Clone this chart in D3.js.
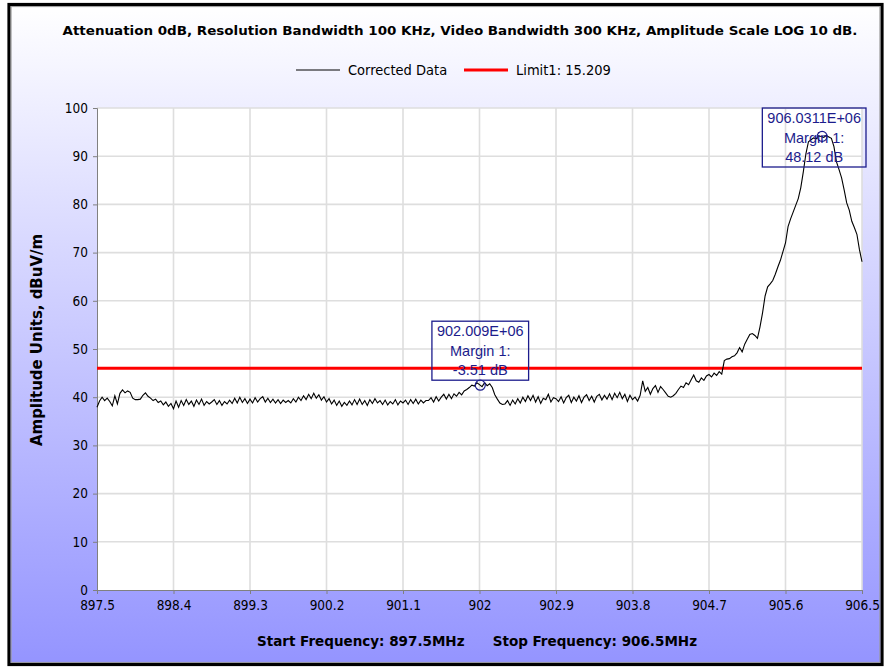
<!DOCTYPE html>
<html>
<head>
<meta charset="utf-8">
<script src="https://cdn.jsdelivr.net/npm/d3@7"></script>
<style>
  body { margin: 0; background: #fff; }
  svg { display: block; }
</style>
</head>
<body>
<svg id="chart"></svg>
<script>
// Sweep settings
const sweepStart = 897.5;
const sweepStop = 906.5;

// Corrected data, dBuV/m, one value per sweep point
const amplitude = [
  37.9, 39.2, 40.0, 39.3, 39.8, 39.1, 38.2, 40.3, 38.6, 40.8,
  41.5, 40.9, 41.3, 41.0, 39.8, 39.5, 39.5, 39.6, 40.4, 40.9,
  40.2, 39.8, 39.3, 39.6, 38.9, 39.2, 38.4, 39.0, 38.1, 38.7,
  37.6, 39.2, 37.9, 39.3, 38.3, 39.5, 38.5, 39.2, 38.1, 39.4,
  38.5, 39.6, 38.3, 39.1, 38.6, 39.0, 39.5, 38.5, 39.3, 38.3,
  39.1, 38.6, 39.4, 38.7, 39.8, 38.8, 40.0, 38.9, 39.7, 38.7,
  39.6, 38.8, 39.9, 39.0, 39.7, 40.1, 39.0, 39.8, 38.9, 39.6,
  38.8, 39.5, 38.7, 39.4, 38.9, 39.3, 38.8, 39.7, 39.0, 40.0,
  39.3, 40.3, 39.5, 40.6, 39.7, 40.8, 39.8, 40.5, 39.4, 40.1,
  39.0, 39.7, 38.6, 39.4, 38.3, 39.2, 38.1, 38.9, 38.3, 39.2,
  38.4, 39.5, 38.5, 39.6, 38.5, 39.3, 38.3, 39.5, 38.7, 39.7,
  38.8, 39.3, 38.5, 39.4, 38.4, 39.1, 38.6, 39.5, 38.4, 39.2,
  38.8, 39.4, 38.5, 39.5, 38.7, 39.6, 38.6, 39.4, 38.8, 39.3,
  39.3, 39.9, 39.0, 40.1, 39.2, 40.0, 40.6, 39.6, 40.6, 39.7,
  40.7, 40.2, 41.0, 40.5, 41.3, 41.6, 42.0, 42.5, 42.3, 43.0,
  42.6, 42.2, 43.0, 42.4, 42.8, 42.0, 40.5, 39.6, 38.8, 38.5,
  38.6, 39.3, 38.3, 39.4, 38.6, 39.7, 38.8, 40.0, 39.1, 40.3,
  39.3, 40.4, 39.0, 40.1, 38.7, 39.8, 39.5, 40.6, 39.0, 39.9,
  39.7, 39.1, 40.1, 38.8, 39.9, 40.4, 38.9, 40.0, 39.2, 40.3,
  38.9, 40.0, 40.5, 39.3, 40.2, 39.0, 40.2, 40.6, 39.4, 40.4,
  39.6, 40.7, 39.5, 40.8, 39.9, 41.0, 39.7, 40.6, 39.1, 40.4,
  39.5, 40.0, 39.2, 40.4, 43.4, 41.2, 42.0, 40.6, 41.8, 42.4,
  41.0, 42.2, 41.6, 40.9, 40.2, 40.0, 40.3, 40.8, 41.6, 42.3,
  42.0, 43.0, 42.6, 43.6, 44.6, 43.4, 43.1, 44.0, 43.5, 44.4,
  44.7, 44.2, 45.0, 44.5, 45.3, 44.8, 47.6, 47.9, 48.0, 48.4,
  48.6, 49.2, 50.3, 49.4, 51.0, 52.0, 53.0, 53.2, 52.8, 52.2,
  54.6, 57.5, 61.0, 62.9, 63.5, 64.2, 65.5, 67.0, 68.4, 70.2,
  72.0, 75.4, 77.0, 78.4, 79.8, 81.2, 83.5, 86.8, 90.5, 93.0,
  93.4, 93.8, 93.6, 94.2, 94.1, 93.9, 94.3, 94.0, 93.7, 92.0,
  88.8, 87.2, 85.5, 83.0, 80.3, 78.8, 76.5, 75.2, 73.8, 70.6,
  68.1
];

// Limit line
const limitName = "Limit1: 15.209";
const limitValue = 46;

// Markers
const markerFreqs = [902.009, 906.0311];
const markerAmps = [42.49, 94.12];
const markerLabels = ["902.009E+06", "906.0311E+06"];
const markerMargins = ["-3.51 dB", "48.12 dB"];

// Axis ticks
const xTickLabels = ["897.5", "898.4", "899.3", "900.2", "901.1", "902", "902.9", "903.8", "904.7", "905.6", "906.5"];
const yTicks = [0, 10, 20, 30, 40, 50, 60, 70, 80, 90, 100];

// Texts
const titleText = "Attenuation 0dB, Resolution Bandwidth 100 KHz, Video Bandwidth 300 KHz, Amplitude Scale LOG 10 dB.";
const yAxisTitle = "Amplitude Units, dBuV/m";
const footerText = "Start Frequency: 897.5MHz      Stop Frequency: 906.5MHz";

// Dimensions
const svgWidth = 884;
const svgHeight = 668;
const plot = { left: 97, right: 862, top: 108, bottom: 590 };

const UI_FONT = "'DejaVu Sans Condensed', 'DejaVu Sans', sans-serif";
const NAVY = "#1c1c8c";

const svg = d3.select("#chart").attr("width", svgWidth).attr("height", svgHeight);

// Background gradient
const defs = svg.append("defs");
const grad = defs.append("linearGradient")
  .attr("id", "bg")
  .attr("x1", 0).attr("y1", 0).attr("x2", 0).attr("y2", 1);
grad.append("stop").attr("offset", "0%").attr("stop-color", "#ffffff");
grad.append("stop").attr("offset", "100%").attr("stop-color", "#9494ff");

svg.append("rect")
  .attr("x", 9).attr("y", 4.5)
  .attr("width", 873).attr("height", 660)
  .attr("fill", "url(#bg)")
  .attr("stroke", "#000")
  .attr("stroke-width", 3.2);

svg.append("rect")
  .attr("x", 11.1).attr("y", 6.6)
  .attr("width", 868.8).attr("height", 655.8)
  .attr("fill", "none")
  .attr("stroke", "#9a9a9a")
  .attr("stroke-width", 1);

// Scales
const x = d3.scaleLinear().domain([sweepStart, sweepStop]).range([plot.left, plot.right]);
const y = d3.scaleLinear().domain([0, 100]).range([plot.bottom, plot.top]);

// Plot area
svg.append("rect")
  .attr("x", plot.left).attr("y", plot.top)
  .attr("width", plot.right - plot.left)
  .attr("height", plot.bottom - plot.top)
  .attr("fill", "#fff");

const xTickValues = xTickLabels.map(Number);

// Grid lines
const grid = svg.append("g").attr("stroke", "#dedede").attr("stroke-width", 1.6);
grid.selectAll(".vg")
  .data(xTickValues.slice(1))
  .enter()
  .append("line")
  .attr("x1", (d) => x(d)).attr("x2", (d) => x(d))
  .attr("y1", plot.top).attr("y2", plot.bottom);
grid.selectAll(".hg")
  .data(yTicks.slice(1))
  .enter()
  .append("line")
  .attr("x1", plot.left).attr("x2", plot.right)
  .attr("y1", (d) => y(d)).attr("y2", (d) => y(d));

// Axes
const xAxis = d3.axisBottom(x)
  .tickValues(xTickValues)
  .tickFormat((d, i) => xTickLabels[i])
  .tickSize(4)
  .tickPadding(6);
const yAxis = d3.axisLeft(y).tickValues(yTicks).tickSize(4).tickPadding(5);

const gx = svg.append("g").attr("transform", `translate(0,${plot.bottom})`).call(xAxis);
const gy = svg.append("g").attr("transform", `translate(${plot.left},0)`).call(yAxis);
[gx, gy].forEach((g) => {
  g.select(".domain").attr("stroke", "#808080");
  g.selectAll(".tick line").attr("stroke", "#808080");
  g.selectAll(".tick text")
    .attr("fill", "#000")
    .style("font-family", UI_FONT)
    .style("font-size", "13.5px");
});

// Limit line
svg.append("line")
  .attr("x1", plot.left).attr("x2", plot.right)
  .attr("y1", y(limitValue)).attr("y2", y(limitValue))
  .attr("stroke", "#ff0000")
  .attr("stroke-width", 3);

// Trace
const step = (sweepStop - sweepStart) / (amplitude.length - 1);
const line = d3.line()
  .x((d, i) => x(sweepStart + i * step))
  .y((d) => y(d));
svg.append("path")
  .datum(amplitude)
  .attr("d", line)
  .attr("fill", "none")
  .attr("stroke", "#000")
  .attr("stroke-width", 1.1);

// Markers and annotation boxes
const BOX_H = 59;
const MARKER_R = 5;
markerFreqs.forEach((f, i) => {
  const mx = x(f);
  const my = y(markerAmps[i]);
  svg.append("circle")
    .attr("cx", mx).attr("cy", my).attr("r", MARKER_R)
    .attr("fill", "none")
    .attr("stroke", NAVY)
    .attr("stroke-width", 1.2);

  const g = svg.append("g");
  const lines = [markerLabels[i], "Margin 1:", markerMargins[i]];
  const texts = g.selectAll("text")
    .data(lines)
    .enter()
    .append("text")
    .attr("text-anchor", "middle")
    .attr("fill", NAVY)
    .style("font-family", "'Liberation Sans', Arial, sans-serif")
    .style("font-size", "14.5px")
    .text((d) => d);
  const w = d3.max(texts.nodes(), (n) => n.getComputedTextLength()) + 10;
  const bx = Math.min(mx - w / 2, plot.right + 4 - w);
  const by = Math.max(plot.top, my - MARKER_R - BOX_H);
  texts.attr("x", bx + w / 2).attr("y", (d, j) => by + 15 + j * 19.5);
  g.insert("rect", "text")
    .attr("x", bx).attr("y", by)
    .attr("width", w).attr("height", BOX_H)
    .attr("fill", "none")
    .attr("stroke", NAVY)
    .attr("stroke-width", 1.3);
});

// Title
svg.append("text")
  .attr("x", 460).attr("y", 35)
  .attr("text-anchor", "middle")
  .attr("textLength", 795)
  .attr("lengthAdjust", "spacingAndGlyphs")
  .style("font-family", UI_FONT)
  .style("font-weight", "bold")
  .style("font-size", "13px")
  .text(titleText);

// Legend
const legend = svg.append("g").attr("transform", "translate(296,70)");
legend.append("line").attr("x1", 0).attr("x2", 44).attr("stroke", "#000").attr("stroke-width", 1);
legend.append("text").attr("x", 52).attr("y", 5)
  .style("font-family", UI_FONT).style("font-size", "14.5px")
  .text("Corrected Data");
legend.append("line").attr("x1", 168).attr("x2", 212).attr("stroke", "#ff0000").attr("stroke-width", 3);
legend.append("text").attr("x", 220).attr("y", 5)
  .style("font-family", UI_FONT).style("font-size", "14.5px")
  .text(limitName);

// Y axis title
svg.append("text")
  .attr("transform", "translate(42,340) rotate(-90)")
  .attr("text-anchor", "middle")
  .attr("textLength", 212)
  .attr("lengthAdjust", "spacingAndGlyphs")
  .style("font-family", UI_FONT)
  .style("font-weight", "bold")
  .style("font-size", "15px")
  .text(yAxisTitle);

// Footer
svg.append("text")
  .attr("x", 477).attr("y", 646)
  .attr("text-anchor", "middle")
  .attr("textLength", 440)
  .attr("lengthAdjust", "spacingAndGlyphs")
  .style("font-family", UI_FONT)
  .style("font-weight", "bold")
  .style("font-size", "13.5px")
  .style("white-space", "pre")
  .text(footerText);
</script>
</body>
</html>
